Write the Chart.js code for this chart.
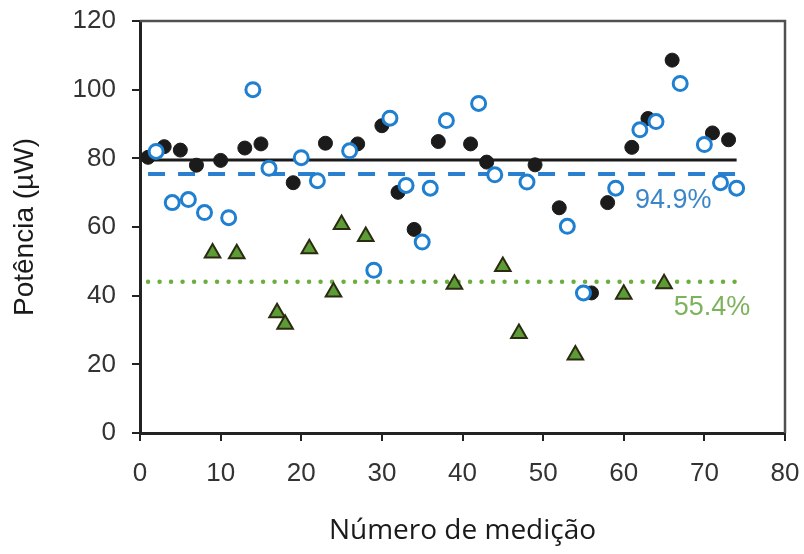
<!DOCTYPE html>
<html>
<head>
<meta charset="utf-8">
<script src="https://cdn.jsdelivr.net/npm/chart.js@4.4.1/dist/chart.umd.min.js"></script>
<style>
  html, body { margin: 0; padding: 0; background: #fff; }
  #wrap { width: 804px; height: 554px; position: relative; }
</style>
</head>
<body>
<div id="wrap"><canvas id="chart"></canvas></div>
<script>
// Measured power (µW) per measurement number, one pair of arrays per group
const fullX = [1, 3, 5, 7, 10, 13, 15, 19, 23, 27, 30, 32, 34, 37, 41, 43, 49, 52, 56, 58, 61, 63, 66, 71, 73];
const fullY = [80.3, 83.4, 82.4, 78.0, 79.4, 83.0, 84.2, 72.9, 84.4, 84.2, 89.5, 70.1, 59.3, 84.9, 84.2, 78.9, 78.1, 65.6, 40.8, 67.1, 83.2, 91.6, 108.6, 87.4, 85.4];

const openX = [2, 4, 6, 8, 11, 14, 16, 20, 22, 26, 29, 31, 33, 35, 36, 38, 42, 44, 48, 53, 55, 59, 62, 64, 67, 70, 72, 74];
const openY = [82.0, 67.1, 68.0, 64.2, 62.7, 100.0, 77.1, 80.2, 73.5, 82.2, 47.4, 91.7, 72.1, 55.6, 71.3, 91.0, 96.0, 75.2, 73.1, 60.2, 40.8, 71.3, 88.3, 90.7, 101.8, 84.0, 72.9, 71.3];

const triX = [9, 12, 17, 18, 21, 24, 25, 28, 39, 45, 47, 54, 60, 65];
const triY = [52.4, 52.2, 35.0, 31.7, 53.7, 41.1, 60.7, 57.2, 43.3, 48.5, 29.0, 22.7, 40.4, 43.5];

// Mean of the first group, and the other two groups' means as a percentage of it
const meanFull = 79.5;
const ratioPct = [94.9, 55.4];
const meanSpan = [1, 74];

// Axis ticks
const xTicks = [0, 10, 20, 30, 40, 50, 60, 70, 80];
const yTicks = [0, 20, 40, 60, 80, 100, 120];

const meanOpen = meanFull * ratioPct[0] / 100;
const meanTri = meanFull * ratioPct[1] / 100;

const toPoints = (xs, ys) => xs.map((v, i) => ({ x: v, y: ys[i] }));
const flat = (level) => meanSpan.map(v => ({ x: v, y: level }));

const SANS = '"Liberation Sans", Arial, sans-serif';

// Fixed axis box sizes; label overhang is already covered by the outer padding
const fixBox = (w, h) => (s) => {
  if (w !== null) s.width = w;
  if (h !== null) s.height = h;
  s.paddingTop = 0;
  s.paddingBottom = 0;
  s.paddingLeft = 0;
  s.paddingRight = 0;
};

// Top and right frame lines plus the percentage labels next to the mean lines
const frameAndLabels = {
  id: 'frameAndLabels',
  beforeDatasetsDraw(chart) {
    const { ctx, chartArea: a } = chart;
    ctx.save();
    ctx.strokeStyle = '#505050';
    ctx.lineWidth = 2.5;
    ctx.beginPath();
    ctx.moveTo(a.left, a.top);
    ctx.lineTo(a.right, a.top);
    ctx.lineTo(a.right, a.bottom);
    ctx.stroke();
    ctx.restore();
  },
  afterDatasetsDraw(chart) {
    const { ctx, scales: { x, y } } = chart;
    ctx.save();
    ctx.font = '27px ' + SANS;
    ctx.textAlign = 'left';
    ctx.textBaseline = 'alphabetic';
    ctx.fillStyle = '#3a86c9';
    ctx.fillText(ratioPct[0].toFixed(1) + '%', x.getPixelForValue(61.4), y.getPixelForValue(meanOpen) + 34);
    ctx.fillStyle = '#7db35c';
    ctx.fillText(ratioPct[1].toFixed(1) + '%', x.getPixelForValue(66.2), y.getPixelForValue(meanTri) + 33);
    ctx.restore();
  }
};

new Chart(document.getElementById('chart'), {
  type: 'scatter',
  data: {
    datasets: [
      {
        label: 'open',
        data: toPoints(openX, openY),
        pointStyle: 'circle',
        pointRadius: 7,
        pointBorderWidth: 3,
        pointBackgroundColor: '#ffffff',
        pointBorderColor: '#1f7fd0',
        order: 1
      },
      {
        label: 'triangle',
        data: toPoints(triX, triY),
        pointStyle: 'triangle',
        pointRadius: 9,
        pointBorderWidth: 2,
        pointBackgroundColor: '#5c9b35',
        pointBorderColor: '#2b2b12',
        order: 2
      },
      {
        label: 'full',
        data: toPoints(fullX, fullY),
        pointStyle: 'circle',
        pointRadius: 7,
        pointBorderWidth: 1,
        pointBackgroundColor: '#1b1b1b',
        pointBorderColor: '#1b1b1b',
        order: 3
      },
      {
        label: 'mean full',
        data: flat(meanFull),
        showLine: true,
        pointRadius: 0,
        borderColor: '#1b1b1b',
        borderWidth: 3,
        order: 4
      },
      {
        label: 'mean open',
        data: flat(meanOpen),
        showLine: true,
        pointRadius: 0,
        borderColor: '#2a7fcf',
        borderWidth: 4,
        borderDash: [17, 13],
        order: 5
      },
      {
        label: 'mean triangle',
        data: flat(meanTri),
        showLine: true,
        pointRadius: 0,
        borderColor: '#6cad3f',
        borderWidth: 4.5,
        borderDash: [0, 11.5],
        borderCapStyle: 'round',
        order: 6
      }
    ]
  },
  options: {
    responsive: true,
    maintainAspectRatio: false,
    animation: false,
    events: [],
    layout: { padding: { left: 0, right: 19, top: 21, bottom: 0 } },
    plugins: {
      legend: { display: false },
      tooltip: { enabled: false }
    },
    scales: {
      x: {
        type: 'linear',
        min: xTicks[0],
        max: xTicks[xTicks.length - 1],
        afterBuildTicks: (s) => { s.ticks = xTicks.map(v => ({ value: v })); },
        afterFit: fixBox(null, 121),
        ticks: {
          padding: 17,
          color: '#333333',
          font: { family: SANS, size: 26 }
        },
        grid: {
          drawOnChartArea: false,
          drawTicks: true,
          tickLength: 8,
          color: '#222222',
          lineWidth: 2
        },
        border: { display: true, color: '#222222', width: 3 },
        title: {
          display: true,
          text: 'Número de medição',
          color: '#1a1a1a',
          font: { family: '"Open Sans", sans-serif', size: 28 },
          padding: { top: 0, bottom: 6 }
        }
      },
      y: {
        type: 'linear',
        min: yTicks[0],
        max: yTicks[yTicks.length - 1],
        afterBuildTicks: (s) => { s.ticks = yTicks.map(v => ({ value: v })); },
        afterFit: fixBox(140, null),
        ticks: {
          padding: 16,
          color: '#333333',
          font: { family: SANS, size: 26 }
        },
        grid: {
          drawOnChartArea: false,
          drawTicks: true,
          tickLength: 8,
          color: '#222222',
          lineWidth: 2
        },
        border: { display: true, color: '#222222', width: 3 },
        title: {
          display: true,
          text: 'Potência (µW)',
          color: '#1a1a1a',
          font: { family: SANS, size: 28 },
          padding: { top: 8.5, bottom: 0 }
        }
      }
    }
  },
  plugins: [frameAndLabels]
});
</script>
</body>
</html>
